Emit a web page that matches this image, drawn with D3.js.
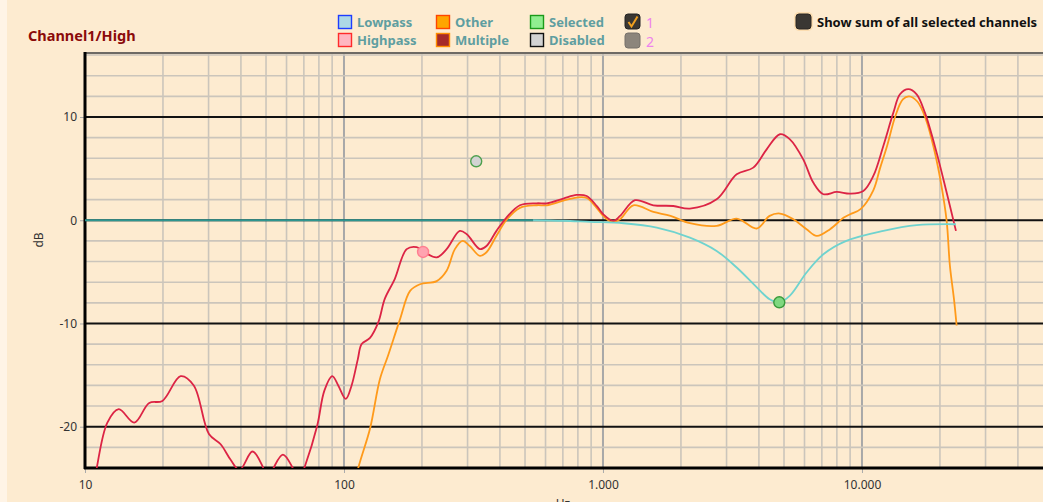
<!DOCTYPE html>
<html><head><meta charset="utf-8">
<script src="https://cdn.jsdelivr.net/npm/d3@7"></script>
<style>
html,body{margin:0;padding:0;background:#fdebd0;}
svg{display:block;}
text{font-family:"Noto Sans","Open Sans",sans-serif;}
</style></head>
<body>
<svg id="c" width="1043" height="502"></svg>
<script>
// ---- data ----
const xTickValues = [10, 100, 1000, 10000];
const xTickLabels = ["10", "100", "1.000", "10.000"];
const yTickValues = [-20, -10, 0, 10];
const yTickLabels = ["-20", "-10", "0", "10"];

const redFreq = [10, 11, 12.2, 13.5, 15.5, 17.7, 19.9, 23.4, 26.3, 30.1, 33.4, 36.5, 39.5, 44.3, 48.4, 51, 53.7, 58.1, 63.1, 66.5, 70.5, 78.8, 84, 90.1, 95, 101.6, 107, 113, 117, 126, 135.6, 143.8, 157, 174.6, 190.6, 202, 228, 249, 280, 298, 335, 355, 388, 424, 478, 555, 607, 703, 791, 865, 945, 1002, 1096, 1164, 1330, 1565, 1868, 2166, 2747, 3283, 3805, 4285, 4822, 5270, 5932, 6484, 7093, 7986, 9000, 10120, 11060, 12090, 13210, 14020, 15100, 16260, 17510, 19420, 21230, 23060];
const redDb = [-30, -24.5, -19.6, -18.3, -19.6, -17.7, -17.5, -15.1, -16.0, -20.7, -21.7, -23.2, -24.2, -22.4, -23.8, -25.5, -23.9, -22.7, -23.9, -25.5, -23.9, -19.9, -16.5, -15.1, -16.0, -17.3, -16.0, -13.5, -12.0, -11.4, -9.9, -7.6, -5.7, -2.8, -2.6, -3.0, -3.6, -2.8, -1.03, -1.36, -2.8, -2.5, -1.03, 0.26, 1.45, 1.64, 1.64, 2.1, 2.45, 2.35, 1.4, 0.58, -0.06, 0.42, 1.94, 1.45, 1.38, 1.13, 2.03, 4.45, 5.1, 6.87, 8.33, 7.84, 5.9, 3.65, 2.52, 2.74, 2.58, 2.84, 4.29, 7.2, 10.4, 12.2, 12.7, 12.2, 10.4, 6.55, 2.68, -1.03];

const orangeFreq = [100, 113.5, 126, 137.6, 148, 164.5, 180, 196.5, 228, 249, 268, 287, 306, 335, 355, 388, 424, 478, 555, 607, 703, 791, 865, 945, 1002, 1080, 1164, 1310, 1565, 1823, 2166, 2747, 3283, 3925, 4400, 4822, 5430, 6110, 6690, 7530, 8510, 9000, 9900, 11060, 11730, 12500, 13460, 14380, 15200, 16360, 17640, 18980, 20170, 21230, 21850, 22650, 23200];
const orangeDb = [-30, -24, -20.2, -15.4, -13.1, -9.6, -6.84, -6.2, -5.9, -4.9, -2.8, -2.0, -2.5, -3.45, -3.1, -1.5, 0.03, 1.2, 1.45, 1.45, 1.9, 2.2, 2.15, 1.2, 0.42, -0.16, 0.1, 1.45, 0.8, 0.42, -0.29, -0.55, 0.16, -0.8, 0.42, 0.65, 0.1, -0.87, -1.52, -0.87, 0.26, 0.58, 1.1, 2.9, 5.0, 7.2, 10.1, 11.7, 12.0, 11.5, 9.8, 6.9, 3.65, -0.06, -4.4, -7.6, -10.2];

const filterFreq = [537, 700, 892, 1200, 1614, 2166, 2747, 3283, 3925, 4400, 4795, 5270, 6110, 7093, 8700, 12090, 16260, 23060];
const filterDb = [0, -0.05, -0.16, -0.29, -0.71, -1.68, -2.97, -4.58, -6.5, -7.65, -7.95, -7.3, -5.06, -3.3, -2.0, -1.03, -0.48, -0.39];

const flatFreq = [10, 537];
const flatDb = [0, 0];

const dotFreq = [202, 324, 4795];
const dotDb = [-3.07, 5.71, -7.95];
const dotKind = ["Highpass", "Disabled", "Selected"];

const legendNames = ["Lowpass", "Highpass", "Other", "Multiple", "Selected", "Disabled"];
const legendFill = ["#add8e6", "#ffb6c1", "#ffa500", "#a52a2a", "#90ee90", "#d3d3d3"];
const legendStroke = ["#1e3cff", "#ff2a2a", "#ff4500", "#ff8c00", "#1a9a1a", "#111111"];

// ---- layout ----
const svg = d3.select("#c");
const L = 85, T = 53, R = 1043, B = 468;
const x = d3.scaleLog().domain([10, 50000]).range([L, R]);
const y = d3.scaleLinear().domain([-24, 16.2]).range([B, T]);

svg.append("rect").attr("width", 1043).attr("height", 502).attr("fill", "#fdebd0");
svg.append("rect").attr("width", 7).attr("height", 502).attr("fill", "#fff4e6");

svg.append("defs").append("clipPath").attr("id", "clip")
  .append("rect").attr("x", L).attr("y", T).attr("width", R - L).attr("height", B - T);

const grid = svg.append("g");
const vLines = [];
for (let d = 10; d <= 10000; d *= 10) for (let k = 1; k <= 9; k++) if (k * d < 50000) vLines.push(k * d);
const vUnique = Array.from(new Set(vLines));
grid.selectAll("line.v").data(vUnique).join("line")
  .attr("x1", d => x(d)).attr("x2", d => x(d)).attr("y1", T).attr("y2", B)
  .attr("stroke", d => xTickValues.includes(d) ? "#a8a8a8" : "#cbc5bb")
  .attr("stroke-width", d => xTickValues.includes(d) ? 2 : 1.6);
const hMinor = d3.range(-24, 17, 2).filter(v => v % 10 !== 0 && v > -24);
grid.selectAll("line.h").data(hMinor).join("line")
  .attr("x1", L).attr("x2", R).attr("y1", d => y(d)).attr("y2", d => y(d))
  .attr("stroke", "#cbc5bb").attr("stroke-width", 1.6);
grid.selectAll("line.m").data(yTickValues).join("line")
  .attr("x1", L).attr("x2", R).attr("y1", d => y(d)).attr("y2", d => y(d))
  .attr("stroke", "#111").attr("stroke-width", 2);

svg.append("line").attr("x1", L).attr("x2", R).attr("y1", T).attr("y2", T)
  .attr("stroke", "#6e6a64").attr("stroke-width", 2);

// axes
const xAxis = d3.axisBottom(x).tickValues(xTickValues).tickFormat((d, i) => xTickLabels[i]).tickSize(5).tickSizeOuter(0);
const gx = svg.append("g").attr("transform", `translate(0,${B})`).call(xAxis);
gx.select(".domain").remove();
gx.selectAll(".tick line").attr("stroke", "#aaa");
gx.selectAll(".tick text").attr("font-size", 12).attr("fill", "#333").attr("dy", "1.12em");

const yAxis = d3.axisLeft(y).tickValues(yTickValues).tickFormat((d, i) => yTickLabels[i]).tickSize(5).tickSizeOuter(0);
const gy = svg.append("g").attr("transform", `translate(${L},0)`).call(yAxis);
gy.select(".domain").remove();
gy.selectAll(".tick line").attr("stroke", "#aaa");
gy.selectAll(".tick text").attr("font-size", 12).attr("fill", "#333");

svg.append("line").attr("x1", L).attr("x2", L).attr("y1", T - 1).attr("y2", B + 1)
  .attr("stroke", "#000").attr("stroke-width", 3);
svg.append("line").attr("x1", L - 1).attr("x2", R).attr("y1", B).attr("y2", B)
  .attr("stroke", "#000").attr("stroke-width", 3);

svg.append("text").attr("transform", "translate(43,240) rotate(-90)")
  .attr("text-anchor", "middle").attr("font-size", 12).attr("fill", "#333").text("dB");
svg.append("text").attr("x", 563).attr("y", 508).attr("text-anchor", "middle")
  .attr("font-size", 12).attr("fill", "#333").text("Hz");

// curves
const plot = svg.append("g").attr("clip-path", "url(#clip)");
const line = d3.line().x(d => x(d[0])).y(d => y(d[1])).curve(d3.curveCatmullRom.alpha(0.5));
const zipS = (f, v) => f.map((d, i) => [d, v[i]]);

plot.append("path").datum(zipS(flatFreq, flatDb)).attr("d", line)
  .attr("fill", "none").attr("stroke", "#2e9690").attr("stroke-width", 2.2);
plot.append("path").datum(zipS(orangeFreq, orangeDb)).attr("d", line)
  .attr("fill", "none").attr("stroke", "#ff9a1a").attr("stroke-width", 1.8);
plot.append("path").datum(zipS(redFreq, redDb)).attr("d", line)
  .attr("fill", "none").attr("stroke", "#dc2445").attr("stroke-width", 1.8);
plot.append("path").datum(zipS(filterFreq, filterDb)).attr("d", line)
  .attr("fill", "none").attr("stroke", "#6fd3cf").attr("stroke-width", 1.8);

const dotFill = {Highpass: "#ffa3b0", Disabled: "#d3d3d3", Selected: "#7fd87f"};
const dotStroke = {Highpass: "#ff7f90", Disabled: "#4ea04e", Selected: "#3a9a3a"};
plot.selectAll("circle.pt").data(dotFreq.map((f, i) => ({f, v: dotDb[i], k: dotKind[i]}))).join("circle")
  .attr("cx", d => x(d.f)).attr("cy", d => y(d.v)).attr("r", 5.5)
  .attr("fill", d => dotFill[d.k]).attr("stroke", d => dotStroke[d.k]).attr("stroke-width", 1.4);

// title
svg.append("text").attr("x", 28).attr("y", 41).attr("font-size", 14.5).attr("font-weight", "bold")
  .attr("fill", "#8b0a0a").text("Channel1/High");

// legend
const lg = svg.append("g");
const colX = [338, 436, 530];
legendNames.forEach((n, i) => {
  const cx = colX[Math.floor(i / 2)], cy = i % 2 === 0 ? 15 : 33;
  lg.append("rect").attr("x", cx + 0.5).attr("y", cy + 0.5).attr("width", 13).attr("height", 13)
    .attr("fill", legendFill[i]).attr("stroke", legendStroke[i]).attr("stroke-width", 1.4);
  lg.append("text").attr("x", cx + 19).attr("y", cy + 11.5).attr("font-size", 13).attr("font-weight", "bold")
    .attr("fill", "#5f9ea0").text(n);
});
const chan = ["1", "2"];
chan.forEach((c, i) => {
  const cy = i === 0 ? 14 : 33;
  lg.append("rect").attr("x", 625).attr("y", cy).attr("width", 15).attr("height", 15).attr("rx", 3)
    .attr("fill", i === 0 ? "#3a3733" : "#8c857c").attr("stroke", i === 0 ? "#222" : "#77716a").attr("stroke-width", 1);
  lg.append("text").attr("x", 646).attr("y", cy + 14).attr("font-size", 14).attr("fill", "#ee82ee").text(c);
});
lg.append("path").attr("d", "M628.5,22 L631.5,26.5 L637.5,16.5").attr("fill", "none")
  .attr("stroke", "#f0a020").attr("stroke-width", 2);

lg.append("rect").attr("x", 794).attr("y", 12).attr("width", 19).attr("height", 19).attr("rx", 5)
  .attr("fill", "#fbd9a8").attr("opacity", 0.8);
lg.append("rect").attr("x", 796).attr("y", 14).attr("width", 15).attr("height", 15).attr("rx", 3)
  .attr("fill", "#3a3733").attr("stroke", "#2a2622").attr("stroke-width", 1);
lg.append("text").attr("x", 817).attr("y", 27).attr("font-size", 13).attr("font-weight", "bold")
  .attr("fill", "#111").text("Show sum of all selected channels");
</script>
</body></html>
